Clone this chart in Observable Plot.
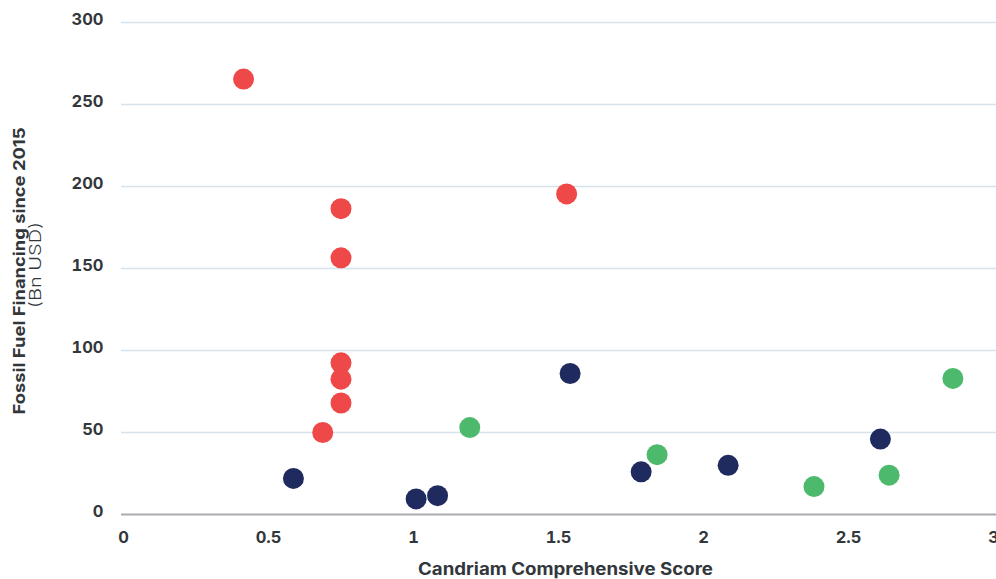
<!DOCTYPE html>
<html><head><meta charset="utf-8">
<script src="https://cdn.jsdelivr.net/npm/d3@7"></script>
<script src="https://cdn.jsdelivr.net/npm/@observablehq/plot@0.6"></script>
<style>html,body{margin:0;padding:0;background:#fff} svg{display:block}</style>
</head><body><div id="chart"></div>
<script>
// Data
const redX   = [0.414, 0.75, 0.75, 0.75, 0.75, 0.75, 0.687, 1.528];
const redY   = [265.5, 186.5, 156.5, 92.5, 82.5, 68, 50, 195.5];
const navyX  = [0.586, 1.009, 1.083, 1.54, 1.785, 2.085, 2.61];
const navyY  = [22, 9.5, 11.5, 86, 26, 30, 46];
const greenX = [1.194, 1.84, 2.381, 2.64, 2.86];
const greenY = [53, 36.5, 17, 24, 83];
const groups = ["Group A", "Group B", "Group C"];
const groupColors = ["#ee4849", "#1f2b5f", "#4cb96c"];
const xTicks = [0, 0.5, 1, 1.5, 2, 2.5, 3];
const yTicks = [0, 50, 100, 150, 200, 250, 300];
const xTitle = "Candriam Comprehensive Score";
const yTitle = "Fossil Fuel Financing since 2015";
const yUnit = "(Bn USD)";

const data = [
  ...redX.map((x, i) => ({x, y: redY[i], group: groups[0]})),
  ...navyX.map((x, i) => ({x, y: navyY[i], group: groups[1]})),
  ...greenX.map((x, i) => ({x, y: greenY[i], group: groups[2]}))
];

const font = "Inter, 'DejaVu Sans', sans-serif";
const chart = Plot.plot({
  width: 996, height: 579,
  marginLeft: 121, marginRight: 0, marginTop: 22, marginBottom: 65,
  style: {fontFamily: font, background: "#fff", overflow: "visible"},
  x: {domain: [0, 3], range: [123, 993]},
  y: {domain: [0, 300]},
  color: {type: "ordinal", domain: groups, range: groupColors},
  marks: [
    Plot.ruleY(yTicks.filter(d => d > 0), {stroke: "#d7e3ec", strokeWidth: 1.5}),
    Plot.ruleY([0], {stroke: "#a7abb0", strokeWidth: 2}),
    Plot.dot(data, {x: "x", y: "y", fill: "group", r: 10.5}),
    Plot.axisX({ticks: xTicks, tickSize: 0, tickPadding: 17, label: null, fontSize: 16.5, fontWeight: 700, fill: "#32373b", tickFormat: d => String(d)}),
    Plot.axisY({ticks: yTicks, tickSize: 0, tickPadding: 18, dy: -3, label: null, fontSize: 16.5, fontWeight: 700, fill: "#32373b"})
  ]
});
document.getElementById("chart").appendChild(chart);

const svg = d3.select(chart);
svg.append("text")
  .attr("x", 565.5).attr("y", 575)
  .attr("text-anchor", "middle")
  .attr("font-family", font).attr("font-size", 17).attr("font-weight", 700)
  .attr("fill", "#32373b")
  .attr("textLength", 295).attr("lengthAdjust", "spacingAndGlyphs")
  .text(xTitle);
g = svg.append("g").attr("transform", "translate(0,271)");
g.append("text")
  .attr("transform", "translate(19,0) rotate(-90)")
  .attr("text-anchor", "middle").attr("dominant-baseline", "central")
  .attr("font-family", font).attr("font-size", 16.5).attr("font-weight", 700)
  .attr("fill", "#32373b")
  .attr("textLength", 287).attr("lengthAdjust", "spacingAndGlyphs")
  .text(yTitle);
g.append("text")
  .attr("transform", "translate(35,-6) rotate(-90)")
  .attr("text-anchor", "middle").attr("dominant-baseline", "central")
  .attr("font-family", font).attr("font-size", 16).attr("font-weight", 300)
  .attr("fill", "#32373b")
  .attr("textLength", 86).attr("lengthAdjust", "spacingAndGlyphs")
  .text(yUnit);
</script>
</body></html>
